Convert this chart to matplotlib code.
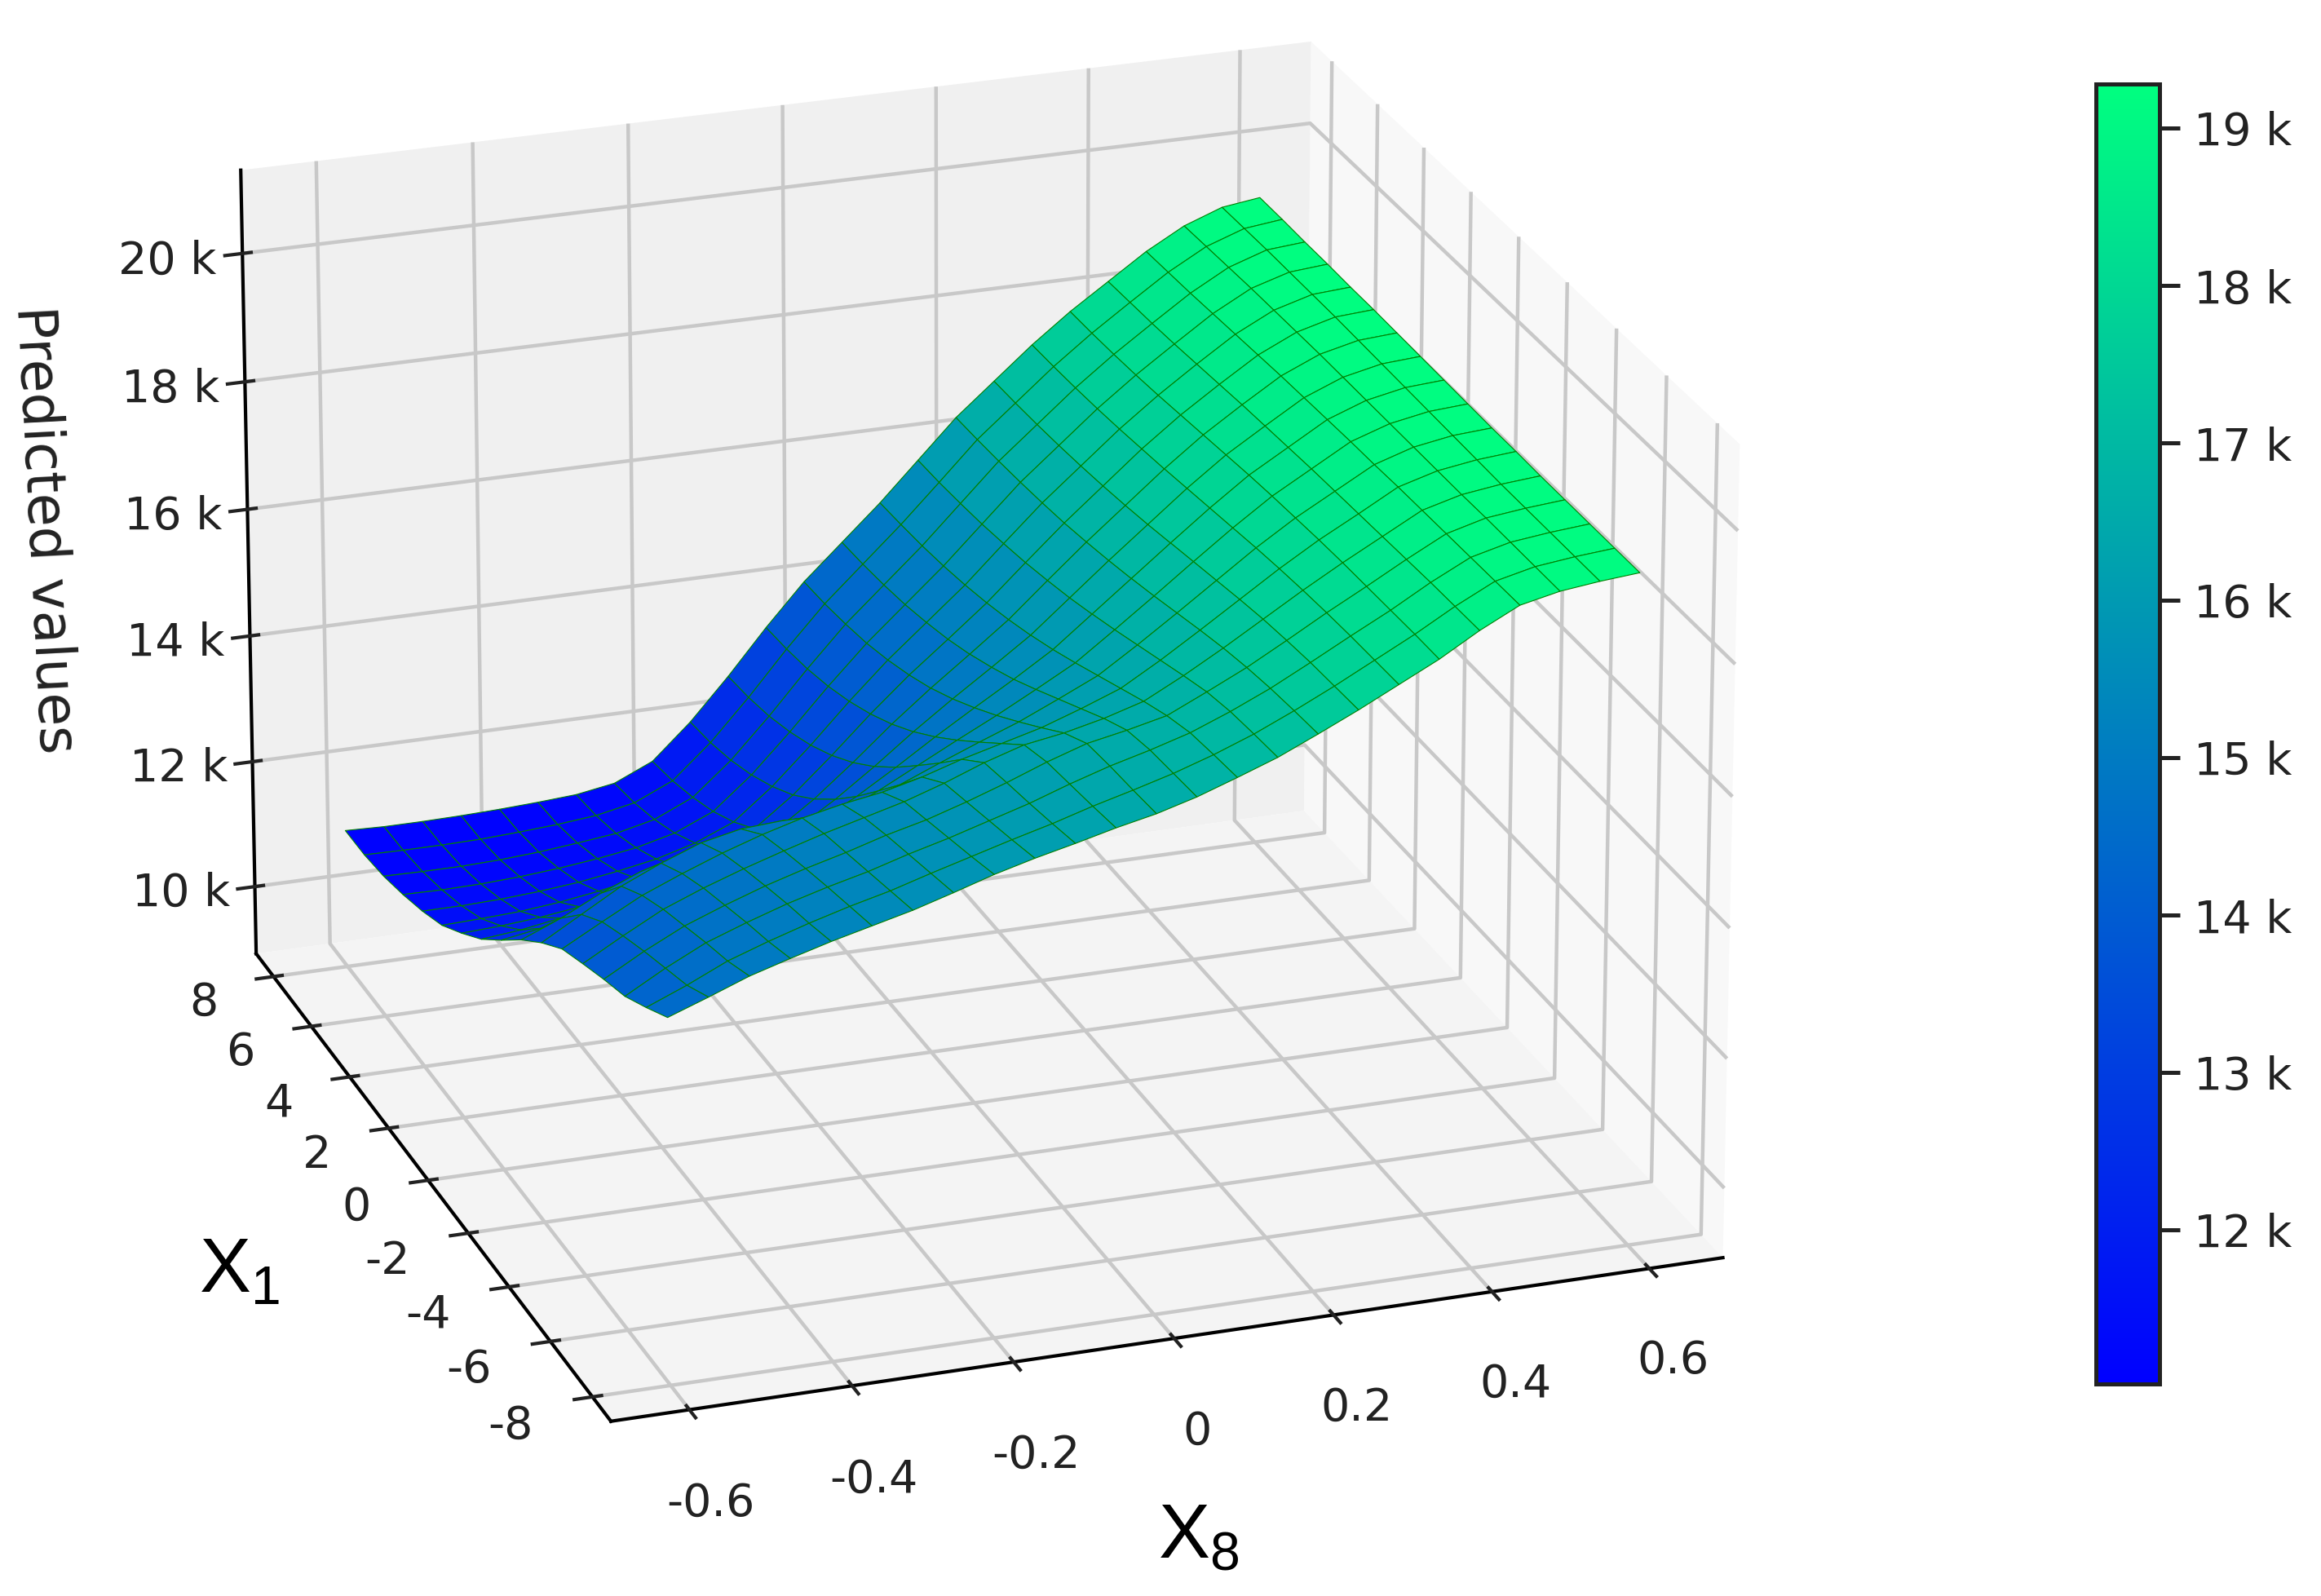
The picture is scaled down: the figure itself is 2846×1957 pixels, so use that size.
import numpy as np
import matplotlib
matplotlib.use('Agg')
import matplotlib.pyplot as plt
from matplotlib import cm
from matplotlib.colors import Normalize
from matplotlib.ticker import FixedLocator

# grid
x8 = [-0.6, -0.55, -0.5, -0.45, -0.4, -0.35, -0.3, -0.25, -0.2, -0.15, -0.1, -0.05, 0.0,
      0.05, 0.1, 0.15, 0.2, 0.25, 0.3, 0.35, 0.4, 0.45, 0.5, 0.55, 0.6]
x1 = [8, 7, 6, 5, 4, 3, 2, 1, 0, -1, -2, -3, -4, -5, -6, -7, -8]

# predicted values in thousands, one list per x8 value, x1 from 8 down to -8
z_by_x8 = [
    [11.10, 11.10, 11.15, 11.25, 11.38, 11.55, 11.82, 12.12, 12.50, 12.90, 13.25, 13.55, 13.72, 13.88, 14.02, 14.25, 14.50],
    [11.08, 11.09, 11.14, 11.24, 11.38, 11.57, 11.85, 12.18, 12.60, 13.15, 13.60, 13.88, 14.06, 14.22, 14.36, 14.50, 14.72],
    [11.08, 11.09, 11.14, 11.25, 11.40, 11.60, 11.90, 12.28, 12.75, 13.45, 13.95, 14.20, 14.38, 14.52, 14.66, 14.78, 14.95],
    [11.09, 11.10, 11.16, 11.28, 11.44, 11.66, 11.98, 12.38, 12.90, 13.70, 14.22, 14.45, 14.62, 14.75, 14.88, 14.99, 15.13],
    [11.11, 11.13, 11.20, 11.33, 11.50, 11.75, 12.08, 12.50, 13.05, 13.85, 14.45, 14.68, 14.83, 14.96, 15.08, 15.18, 15.30],
    [11.14, 11.17, 11.26, 11.40, 11.59, 11.86, 12.20, 12.63, 13.16, 13.80, 14.58, 14.88, 15.02, 15.14, 15.25, 15.35, 15.45],
    [11.18, 11.23, 11.33, 11.49, 11.70, 11.98, 12.34, 12.78, 13.30, 13.88, 14.62, 15.05, 15.20, 15.30, 15.40, 15.50, 15.60],
    [11.28, 11.35, 11.47, 11.64, 11.87, 12.17, 12.54, 12.98, 13.48, 14.02, 14.62, 15.18, 15.36, 15.48, 15.58, 15.68, 15.78],
    [11.55, 11.62, 11.74, 11.90, 12.12, 12.40, 12.75, 13.17, 13.66, 14.18, 14.72, 15.28, 15.52, 15.63, 15.74, 15.85, 15.97],
    [12.10, 12.15, 12.25, 12.40, 12.60, 12.85, 13.17, 13.55, 13.98, 14.45, 14.93, 15.43, 15.72, 15.82, 15.92, 16.02, 16.13],
    [12.75, 12.79, 12.87, 13.00, 13.17, 13.39, 13.66, 13.98, 14.35, 14.76, 15.18, 15.62, 15.95, 16.03, 16.10, 16.18, 16.27],
    [13.45, 13.48, 13.54, 13.64, 13.78, 13.96, 14.18, 14.44, 14.74, 15.07, 15.42, 15.78, 16.14, 16.26, 16.31, 16.36, 16.42],
    [14.10, 14.12, 14.17, 14.24, 14.35, 14.49, 14.66, 14.87, 15.11, 15.37, 15.65, 15.94, 16.24, 16.46, 16.50, 16.52, 16.55],
    [14.65, 14.67, 14.71, 14.77, 14.86, 14.97, 15.11, 15.28, 15.47, 15.69, 15.92, 16.15, 16.38, 16.58, 16.66, 16.69, 16.72],
    [15.20, 15.22, 15.25, 15.30, 15.37, 15.46, 15.57, 15.70, 15.85, 16.02, 16.20, 16.38, 16.56, 16.72, 16.84, 16.89, 16.93],
    [15.80, 15.81, 15.84, 15.88, 15.94, 16.01, 16.10, 16.20, 16.32, 16.45, 16.59, 16.73, 16.87, 17.00, 17.08, 17.12, 17.15],
    [16.40, 16.41, 16.43, 16.46, 16.50, 16.55, 16.62, 16.70, 16.79, 16.89, 17.00, 17.11, 17.21, 17.29, 17.35, 17.39, 17.42],
    [16.90, 16.91, 16.93, 16.96, 17.00, 17.05, 17.11, 17.18, 17.26, 17.34, 17.42, 17.50, 17.57, 17.62, 17.66, 17.68, 17.70],
    [17.40, 17.41, 17.43, 17.46, 17.50, 17.55, 17.60, 17.66, 17.72, 17.78, 17.84, 17.89, 17.93, 17.96, 17.98, 17.99, 18.00],
    [17.85, 17.86, 17.88, 17.91, 17.95, 18.00, 18.05, 18.10, 18.15, 18.19, 18.22, 18.25, 18.27, 18.28, 18.29, 18.30, 18.30],
    [18.25, 18.27, 18.29, 18.32, 18.36, 18.40, 18.44, 18.47, 18.50, 18.53, 18.55, 18.57, 18.59, 18.61, 18.63, 18.64, 18.65],
    [18.65, 18.67, 18.69, 18.72, 18.75, 18.78, 18.81, 18.83, 18.85, 18.87, 18.88, 18.90, 18.91, 18.92, 18.93, 18.94, 18.95],
    [18.98, 19.00, 19.02, 19.04, 19.05, 19.06, 19.07, 19.07, 19.07, 19.07, 19.07, 19.07, 19.07, 19.08, 19.08, 19.08, 19.08],
    [19.20, 19.21, 19.22, 19.22, 19.22, 19.22, 19.21, 19.20, 19.19, 19.18, 19.17, 19.16, 19.15, 19.15, 19.15, 19.15, 19.15],
    [19.28, 19.28, 19.27, 19.27, 19.26, 19.26, 19.25, 19.24, 19.23, 19.22, 19.21, 19.21, 19.20, 19.20, 19.20, 19.20, 19.20],
]

xticks = [-0.6, -0.4, -0.2, 0, 0.2, 0.4, 0.6]
xticklabels = ['-0.6', '-0.4', '-0.2', '0', '0.2', '0.4', '0.6']
yticks = [-8, -6, -4, -2, 0, 2, 4, 6, 8]
yticklabels = ['-8', '-6', '-4', '-2', '0', '2', '4', '6', '8']
zticks = [10000, 12000, 14000, 16000, 18000, 20000]
zticklabels = ['10 k', '12 k', '14 k', '16 k', '18 k', '20 k']
cbar_ticks = [12000, 13000, 14000, 15000, 16000, 17000, 18000, 19000]
cbar_labels = ['12 k', '13 k', '14 k', '15 k', '16 k', '17 k', '18 k', '19 k']

plt.rcParams['grid.color'] = '#c8c8c8'
plt.rcParams['grid.linewidth'] = 1.6
plt.rcParams['axes.linewidth'] = 1.5
plt.rcParams['xtick.major.width'] = 1.5
plt.rcParams['ytick.major.width'] = 1.5
plt.rcParams['text.color'] = '#222222'
plt.rcParams['xtick.color'] = '#222222'
plt.rcParams['ytick.color'] = '#222222'
plt.rcParams['mathtext.fontset'] = 'custom'
plt.rcParams['mathtext.rm'] = 'Liberation Sans'
plt.rcParams['mathtext.default'] = 'rm'

fig = plt.figure(figsize=(14.23, 9.785), dpi=200, facecolor='white')
# camera and box fitted to the corners of the reference
ax = fig.add_axes([0.0169, -0.0284, 0.7835, 1.1394], projection='3d')
ax.patch.set_alpha(0)

X, Y = np.meshgrid(x8, x1)
Z = np.array(z_by_x8).T * 1000
norm = Normalize(vmin=11020, vmax=19280)
ax.plot_surface(X, Y, Z, cmap=cm.winter, norm=norm, rstride=1, cstride=1,
                edgecolor='#008000', linewidth=0.4, antialiased=True, shade=False)

ax.set_proj_type('persp', focal_length=1.555)
ax.view_init(elev=22.625, azim=-109.109)
ax.set_box_aspect((1, 1.0359, 0.7492))
ax.set_xlim(-0.696, 0.694)
ax.set_ylim(-8.87, 8.93)
ax.set_zlim(8920, 21290)

ax.xaxis.set_pane_color('#f8f8f8')
ax.yaxis.set_pane_color('#f0f0f0')
ax.zaxis.set_pane_color('#f4f4f4')
ax.xaxis.pane.set_edgecolor('none')
ax.yaxis.pane.set_edgecolor('none')
ax.zaxis.pane.set_edgecolor('none')

ax.xaxis.set_major_locator(FixedLocator(xticks))
ax.yaxis.set_major_locator(FixedLocator(yticks))
ax.zaxis.set_major_locator(FixedLocator(zticks))
ax.set_xticklabels(xticklabels, fontsize=20)
ax.set_yticklabels(yticklabels, fontsize=20)
ax.set_zticklabels(zticklabels, fontsize=20)
plt.setp(ax.get_yticklabels(), va='bottom', ha='right')
ax.tick_params(axis='x', pad=15)
ax.tick_params(axis='y', pad=14)
ax.tick_params(axis='z', pad=14)

fig.text(0.1033, 0.204, r'$\mathrm{X_1}$', fontsize=34, ha='center', va='center', color='black')
fig.text(0.5166, 0.037, r'$\mathrm{X_8}$', fontsize=34, ha='center', va='center', color='black')
fig.text(0.019, 0.668, 'Predicted values', fontsize=24, rotation=-87, ha='center', va='center')

cax = fig.add_axes([0.9031, 0.1327, 0.0274, 0.8145])
sm = cm.ScalarMappable(norm=norm, cmap=cm.winter)
cbar = fig.colorbar(sm, cax=cax)
cbar.set_ticks(cbar_ticks)
cbar.set_ticklabels(cbar_labels)
cbar.ax.tick_params(labelsize=20, length=9, width=1.8, pad=6)
cbar.outline.set_linewidth(1.8)
cbar.outline.set_edgecolor('#222222')

fig.savefig('out.png', dpi=200, facecolor='white')
